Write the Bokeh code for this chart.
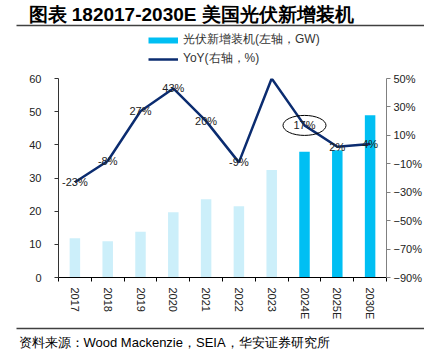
import numpy as np
from bokeh.plotting import figure
from bokeh.models import (Range1d, LinearAxis, FixedTicker, ColumnDataSource,
                          Legend, LegendItem, Label, BoxAnnotation)
from bokeh.core.properties import value
from bokeh.embed import file_html
from bokeh.resources import INLINE

# ---- data ----
years = ["2017", "2018", "2019", "2020", "2021", "2022", "2023", "2024E", "2025E", "2030E"]
capacity_gw = [11.8, 10.9, 13.8, 19.7, 23.6, 21.5, 32.4, 37.9, 38.4, 48.9]
yoy_pct = [-23, -8, 27, 43, 20, -9, 50, 17, 2, 4]
yoy_labels = ["-23%", "-8%", "27%", "43%", "20%", "-9%", "", "17%", "2%", "4%"]
left_ticks = [0, 10, 20, 30, 40, 50, 60]
right_ticks = [-90, -70, -50, -30, -10, 10, 30, 50]
right_tick_labels = ["−90%", "−70%", "−50%", "−30%", "−10%", "10%", "30%", "50%"]
highlight_year = "2024E"
title_text = "图表 182017-2030E 美国光伏新增装机"
source_text = "资料来源：Wood Mackenzie，SEIA，华安证券研究所"
bar_legend = "光伏新增装机(左轴，GW)"
line_legend = "YoY(右轴，%)"

LIGHT = "#CCEFFA"
DARK = "#00BFF3"
NAVY = "#0B2C70"
RULE = "#404040"
SANS = "Liberation Sans"

W = 424
HEAD_H, MAIN_H, FOOT_H = 70, 252, 39


def blank(height):
    f = figure(width=W, height=height, x_range=Range1d(0, W), y_range=Range1d(height, 0),
               x_axis_location=None, y_axis_location=None,
               min_border_left=0, min_border_right=0, min_border_top=0, min_border_bottom=0,
               output_backend="svg", toolbar_location=None)
    f.outline_line_color = None
    f.grid.visible = False
    return f


def rule(fig, y, left=16):
    fig.add_layout(BoxAnnotation(left=left, right=W, left_units="screen", right_units="screen",
                                 top=y - 0.75, bottom=y + 0.75,
                                 fill_color=RULE, fill_alpha=1, line_color=None))


# ---- header: title, rule, legend ----
head = blank(HEAD_H)
head.add_layout(Label(x=28, y=14, x_units="screen", text=title_text,
                      text_font=SANS, text_font_size="19px", text_font_style="bold",
                      text_baseline="middle", text_align="left", text_color="black"))
rule(head, 25)
# legend keys (styled like the chart's bars / line; they hold no visible points)
key_src = ColumnDataSource(dict(x=np.array([np.nan]), y=np.array([np.nan])))
bar_key = head.line(x="x", y="y", source=key_src, line_color=DARK, line_width=6)
line_key = head.line(x="x", y="y", source=key_src, line_color=NAVY, line_width=2.5)
legend = Legend(items=[LegendItem(label=bar_legend, renderers=[bar_key]),
                       LegendItem(label=line_legend, renderers=[line_key])],
                location=(148, 3), padding=0, margin=0, spacing=2,
                glyph_width=30, glyph_height=14, label_height=14, label_standoff=5,
                border_line_color=None, background_fill_alpha=0,
                label_text_font=SANS, label_text_font_size="12px", label_text_color="#333333")
head.add_layout(legend)

# ---- main chart ----
n = len(years)
xc = [i + 0.5 for i in range(n)]  # slot centres; slot i spans [i, i+1]

p = figure(width=W, height=MAIN_H, x_range=Range1d(0, n), y_range=Range1d(0, 60),
           output_backend="svg", toolbar_location=None,
           min_border_left=58, min_border_right=34, min_border_top=8, min_border_bottom=44)
p.outline_line_color = None
p.grid.visible = False

is_fc = [y.endswith("E") for y in years]
hist = ColumnDataSource(dict(x=[c for c, f in zip(xc, is_fc) if not f],
                             top=[v for v, f in zip(capacity_gw, is_fc) if not f]))
fc = ColumnDataSource(dict(x=[c for c, f in zip(xc, is_fc) if f],
                           top=[v for v, f in zip(capacity_gw, is_fc) if f]))
p.vbar(x="x", top="top", width=0.32, source=hist, fill_color=LIGHT, line_color=None)
p.vbar(x="x", top="top", width=0.32, source=fc, fill_color=DARK, line_color=None)

p.extra_y_ranges = {"yoy": Range1d(-90, 50)}
p.line(x=xc, y=yoy_pct, y_range_name="yoy", line_color=NAVY, line_width=2.5)
p.text(x=xc, y=yoy_pct, text=yoy_labels, y_range_name="yoy",
       text_align="center", text_baseline="middle",
       text_font=value(SANS), text_font_size="11px", text_color="#222222")
hi = years.index(highlight_year)
p.ellipse(x=[xc[hi]], y=[yoy_pct[hi]], width=43, height=20,
          width_units="screen", height_units="screen", y_range_name="yoy",
          fill_color=None, line_color="black", line_width=1)

xa = p.xaxis[0]
xa.ticker = FixedTicker(ticks=xc, minor_ticks=list(range(n + 1)))
xa.major_label_overrides = dict(zip(xc, years))
xa.major_label_orientation = "vertical"
xa.major_tick_line_color = None
xa.major_tick_out = 0
xa.major_tick_in = 0
xa.minor_tick_out = 4
xa.minor_tick_in = 0
xa.minor_tick_line_color = "black"
xa.axis_line_color = "black"
xa.major_label_standoff = 6
xa.major_label_text_font = SANS
xa.major_label_text_font_size = "11px"
xa.major_label_text_color = "#222222"

ya = p.yaxis[0]
ya.ticker = FixedTicker(ticks=left_ticks)
ya.major_tick_out = 4
ya.major_tick_in = 0
ya.minor_tick_line_color = None
ya.axis_line_color = "#333333"
ya.major_tick_line_color = "#333333"
ya.major_label_standoff = 13
ya.major_label_text_font = SANS
ya.major_label_text_font_size = "11px"
ya.major_label_text_color = "#222222"

ra = LinearAxis(y_range_name="yoy", ticker=FixedTicker(ticks=right_ticks),
                major_label_overrides=dict(zip(right_ticks, right_tick_labels)))
ra.major_tick_out = 4
ra.major_tick_in = 0
ra.minor_tick_line_color = None
ra.axis_line_color = "#808080"
ra.major_tick_line_color = "#808080"
ra.major_label_standoff = 3
ra.major_label_text_font = SANS
ra.major_label_text_font_size = "11px"
ra.major_label_text_color = "#222222"
p.add_layout(ra, "right")

# ---- footer ----
foot = blank(FOOT_H)
rule(foot, 6)
foot.add_layout(Label(x=18, y=20, x_units="screen", text=source_text,
                      text_font=SANS, text_font_size="13px",
                      text_baseline="middle", text_align="left", text_color="black"))

# separate roots stacked top to bottom (keeps each figure's own frame geometry)
open("out.html", "w").write(file_html([head, p, foot], INLINE))
